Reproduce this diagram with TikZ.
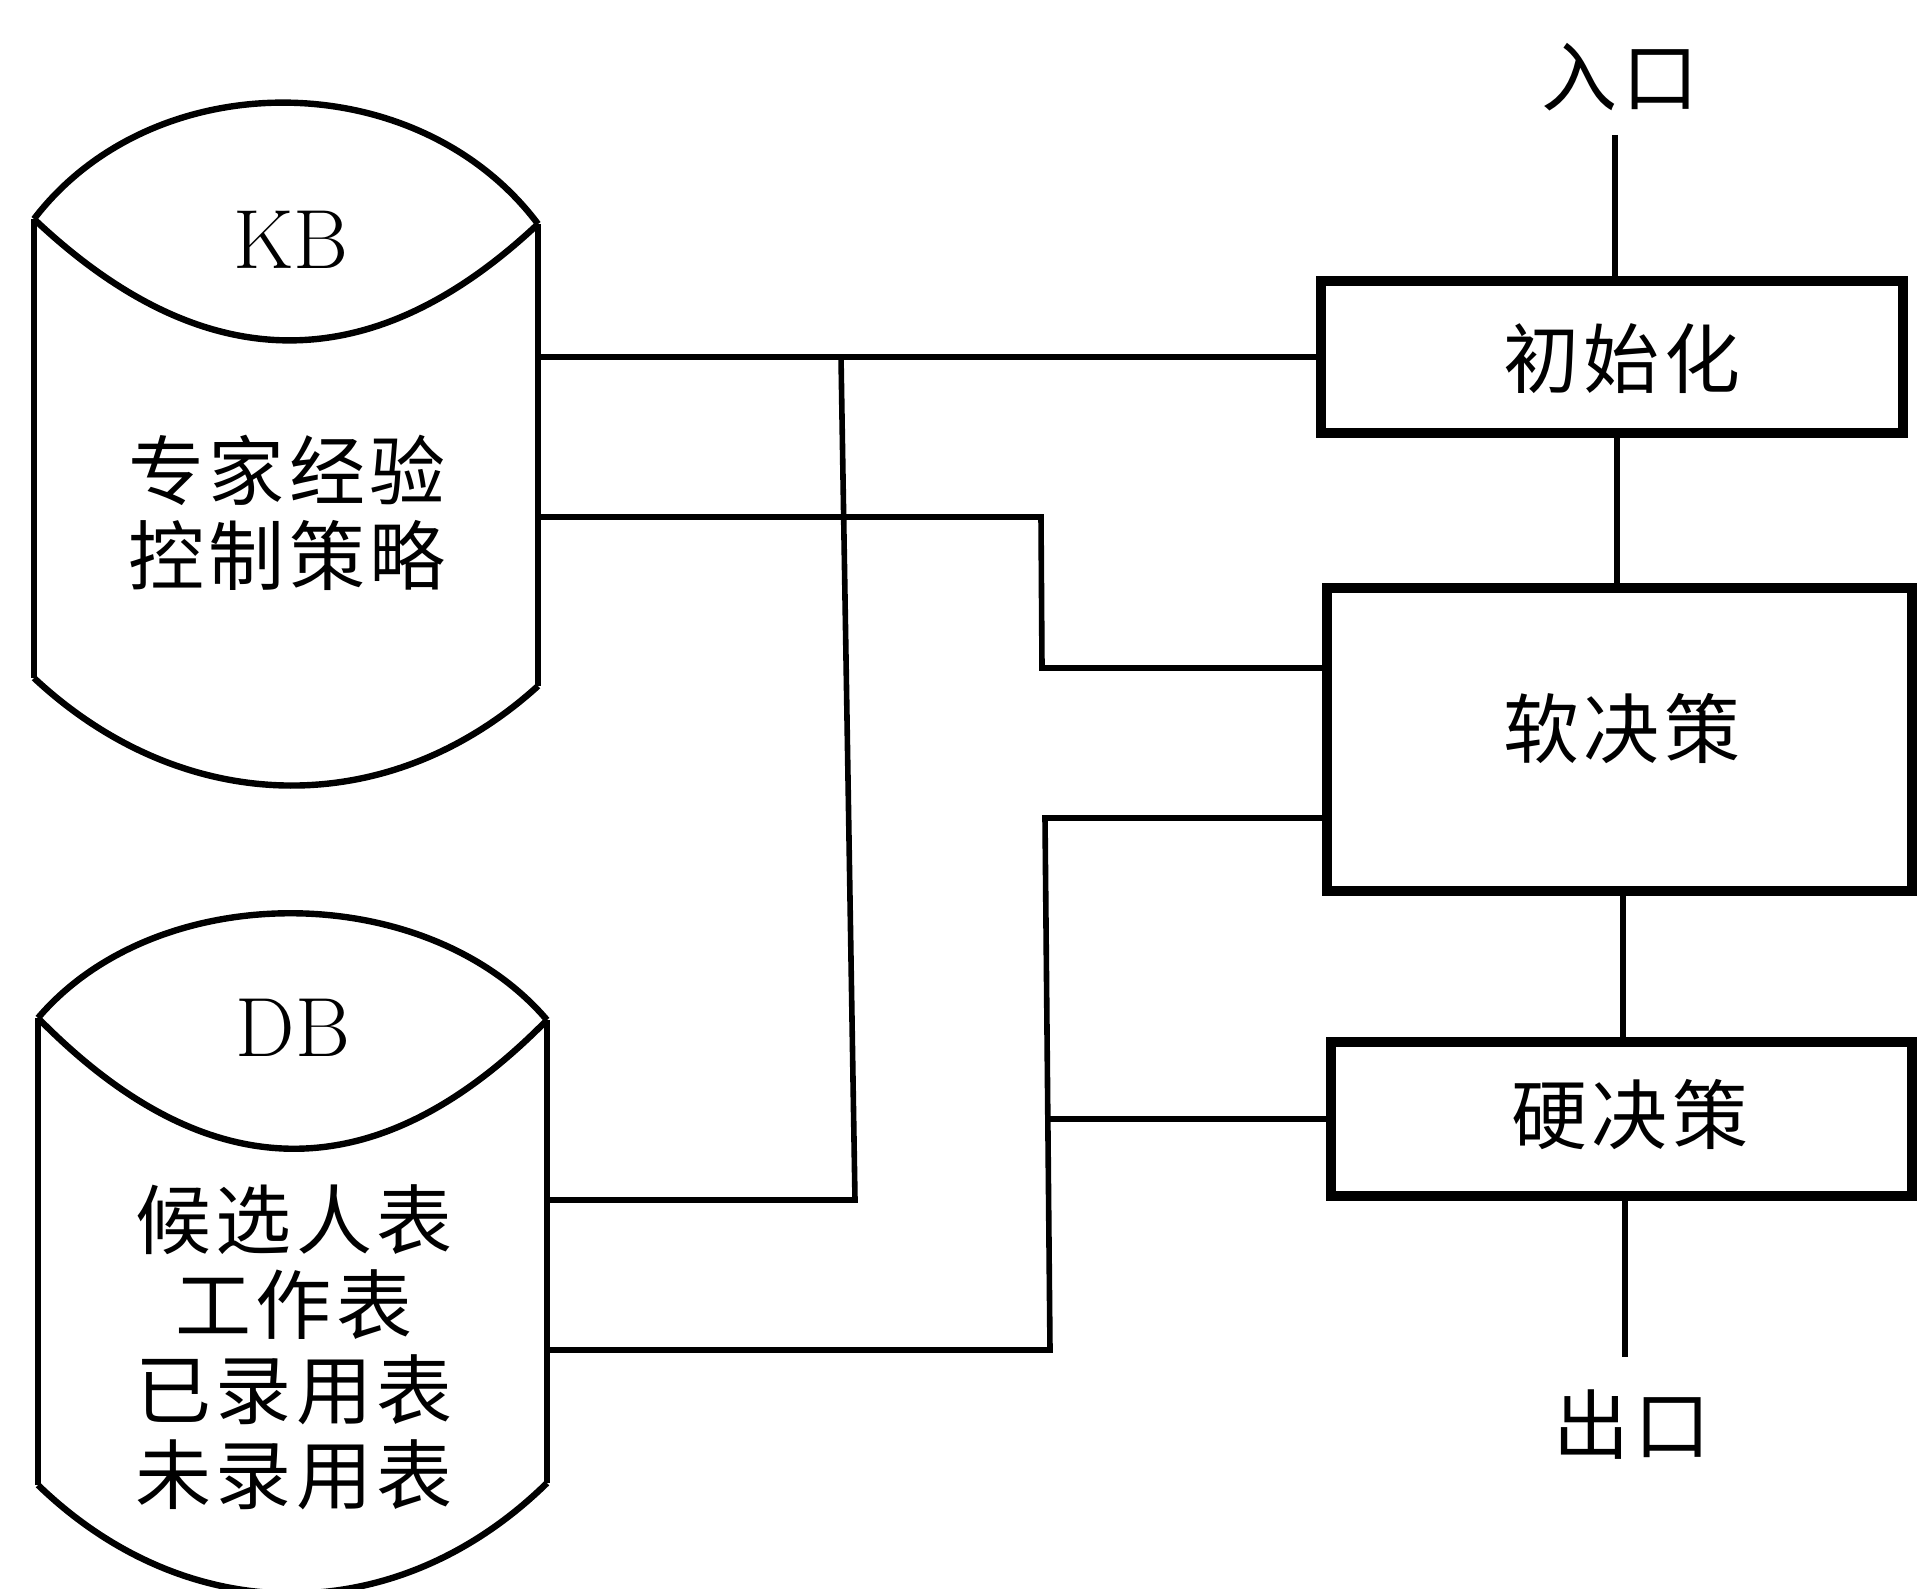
\documentclass[tikz,border=0pt]{standalone}
\usepackage{fontspec}
\newfontfamily\cjkfont[LetterSpace=6]{Noto Sans CJK SC}
\tikzset{
  cyl/.style={line width=3.2pt, line join=round},
  conn/.style={line width=2.8pt},
  blk/.style={draw, line width=4.8pt, inner sep=0pt},
  cjk/.style={font=\cjkfont\fontsize{38}{42.5}\selectfont, inner sep=0pt},
  lat/.style={font=\fontsize{42}{48}\selectfont, inner sep=0pt}
}
\begin{document}
\begin{tikzpicture}[x=0.5pt,y=-0.5pt]
\useasboundingbox (0,0) rectangle (1917,1589);
% ---- KB cylinder
\draw[cyl] (34,219) -- (34,678);
\draw[cyl] (538,224) -- (538,686);
\draw[cyl] (34,219) .. controls (154,62) and (418,64) .. (538,224);
\draw[cyl] (34,219) .. controls (202,378) and (370,382) .. (538,224);
\draw[cyl] (34,678) .. controls (184,818) and (388,822) .. (538,686);
% ---- DB cylinder
\draw[cyl] (38,1018) -- (38,1485);
\draw[cyl] (547,1020) -- (547,1483);
\draw[cyl] (38,1018) .. controls (158,877) and (427,879) .. (547,1020);
\draw[cyl] (38,1018) .. controls (208,1191) and (377,1193) .. (547,1020);
\draw[cyl] (38,1485) .. controls (188,1630) and (397,1630) .. (547,1483);
% ---- texts in cylinders
\node[lat] (kbt) at (291,240) {KB};
\node[cjk, align=center] (kbx) at (287,513) {专家经验\\控制策略};
\node[lat] (dbt) at (293,1028) {DB};
\node[cjk, align=center] (dbx) at (294,1347) {候选人表\\工作表\\已录用表\\未录用表};
\coordinate (kbE) at (538,0);
\coordinate (dbE) at (547,0);
% ---- boxes
\node[blk, minimum width=291pt, minimum height=76pt] (init) at (1612,357) {};
\node[blk, minimum width=292.5pt, minimum height=151.5pt] (soft) at (1619.5,739.5) {};
\node[blk, minimum width=290.5pt, minimum height=77pt] (hard) at (1621.5,1119) {};
\node[cjk] (initt) at (1622,359) {初始化};
\node[cjk] (softt) at (1622,729) {软决策};
\node[cjk] (hardt) at (1630,1115) {硬决策};
\node[cjk] (in) at (1620,77) {入口};
\node[cjk] (out) at (1632,1425) {出口};
\coordinate (inE) at (1615,135);
\coordinate (outE) at (1625,1357);
% ---- vertical chain
\draw[conn] (inE) -- (inE |- init.north);
\draw[conn] (init.south -| 1617,0) -- (soft.north -| 1617,0);
\draw[conn] (soft.south -| 1623,0) -- (hard.north -| 1623,0);
\draw[conn] (hard.south -| outE) -- (outE);
% ---- connectors
\draw[conn] (init.west) -- (init.west -| kbE);
\draw[conn] (init.west -| 841,0) -- (855,1200) -- (dbE |- 0,1200);
\draw[conn] (kbE |- 0,517) -- (1041,517) -- (1042,668) -- (soft.west |- 0,668);
\draw[conn] (soft.west |- 0,818) -- (1045,818) -- (1050,1350) -- (dbE |- 0,1350);
\draw[conn] (hard.west) -- (hard.west -| 1048,0);
\end{tikzpicture}
\end{document}
